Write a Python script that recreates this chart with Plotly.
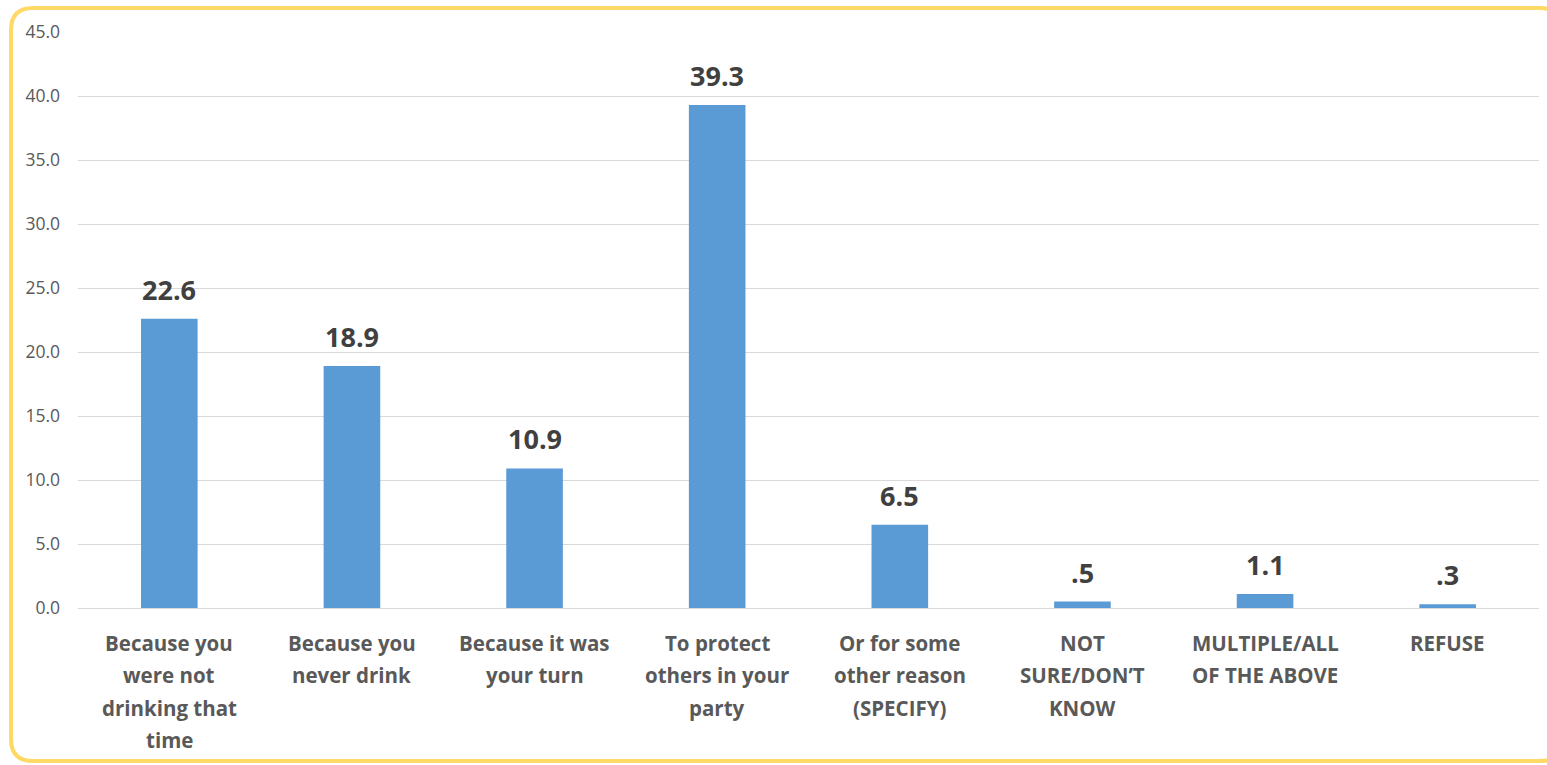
import plotly.graph_objects as go

categories = [
    "Because you<br>were not<br>drinking that<br>time",
    "Because you<br>never drink",
    "Because it was<br>your turn",
    "To protect<br>others in your<br>party",
    "Or for some<br>other reason<br>(SPECIFY)",
    "NOT<br>SURE/DON\u2019T<br>KNOW",
    "MULTIPLE/ALL<br>OF THE ABOVE",
    "REFUSE",
]
values = [22.6, 18.9, 10.9, 39.3, 6.5, 0.5, 1.1, 0.3]
y_ticks = [0, 5, 10, 15, 20, 25, 30, 35, 40, 45]

W, H = 1547, 765
ML, MR, MT, MB = 78, 8, 32, 157
PW = W - ML - MR
PH = H - MT - MB

def px(x):
    return (x - ML) / PW

def py(y):
    return (H - MB - y) / PH

def fmt(v):
    s = f"{v:.1f}"
    if s.startswith("0"):
        s = s[1:]
    return s

FONT = "'Open Sans', Lato, sans-serif"

fig = go.Figure()
fig.add_trace(go.Bar(
    x=list(range(len(categories))),
    y=values,
    marker=dict(color="#5B9BD5", line=dict(width=0)),
    width=0.31,
    hoverinfo="skip",
))

annotations = []
for i, (c, v) in enumerate(zip(categories, values)):
    annotations.append(dict(
        x=i, y=v, xref="x", yref="y", text=fmt(v), showarrow=False,
        yanchor="bottom", yshift=9,
        font=dict(family=FONT, size=27, color="#404040", weight="bold"),
    ))
    for j, line in enumerate(c.split("<br>")):
        annotations.append(dict(
            x=i, y=0, xref="x", yref="y", text=line, showarrow=False,
            yanchor="middle", yshift=-(35 + j * 32.3),
            font=dict(family=FONT, size=20.5, color="#595959", weight="bold"),
        ))

# rounded border
L, T, R, B, r = 11, 8, 1562, 761, 22
path = (
    f"M {px(L+r)},{py(T)} L {px(R-r)},{py(T)} "
    f"Q {px(R)},{py(T)} {px(R)},{py(T+r)} "
    f"L {px(R)},{py(B-r)} Q {px(R)},{py(B)} {px(R-r)},{py(B)} "
    f"L {px(L+r)},{py(B)} Q {px(L)},{py(B)} {px(L)},{py(B-r)} "
    f"L {px(L)},{py(T+r)} Q {px(L)},{py(T)} {px(L+r)},{py(T)} Z"
)

fig.update_layout(
    width=W, height=H,
    margin=dict(l=ML, r=MR, t=MT, b=MB),
    paper_bgcolor="white", plot_bgcolor="white",
    showlegend=False,
    xaxis=dict(range=[-0.5, len(categories) - 0.5], showticklabels=False,
               showgrid=False, zeroline=False, showline=False, ticks=""),
    yaxis=dict(range=[0, 45], tickvals=y_ticks, tickformat=".1f",
               showgrid=True, gridcolor="#D9D9D9", gridwidth=1.3,
               zeroline=True, zerolinecolor="#D9D9D9", zerolinewidth=1.3,
               showline=False, ticks="", ticklabelstandoff=17,
               tickfont=dict(family=FONT, size=17.5, color="#595959")),
    annotations=annotations,
    shapes=[dict(type="path", path=path, xref="paper", yref="paper",
                 line=dict(color="#FFD966", width=4), layer="above")],
)

fig.write_html("out.html")
